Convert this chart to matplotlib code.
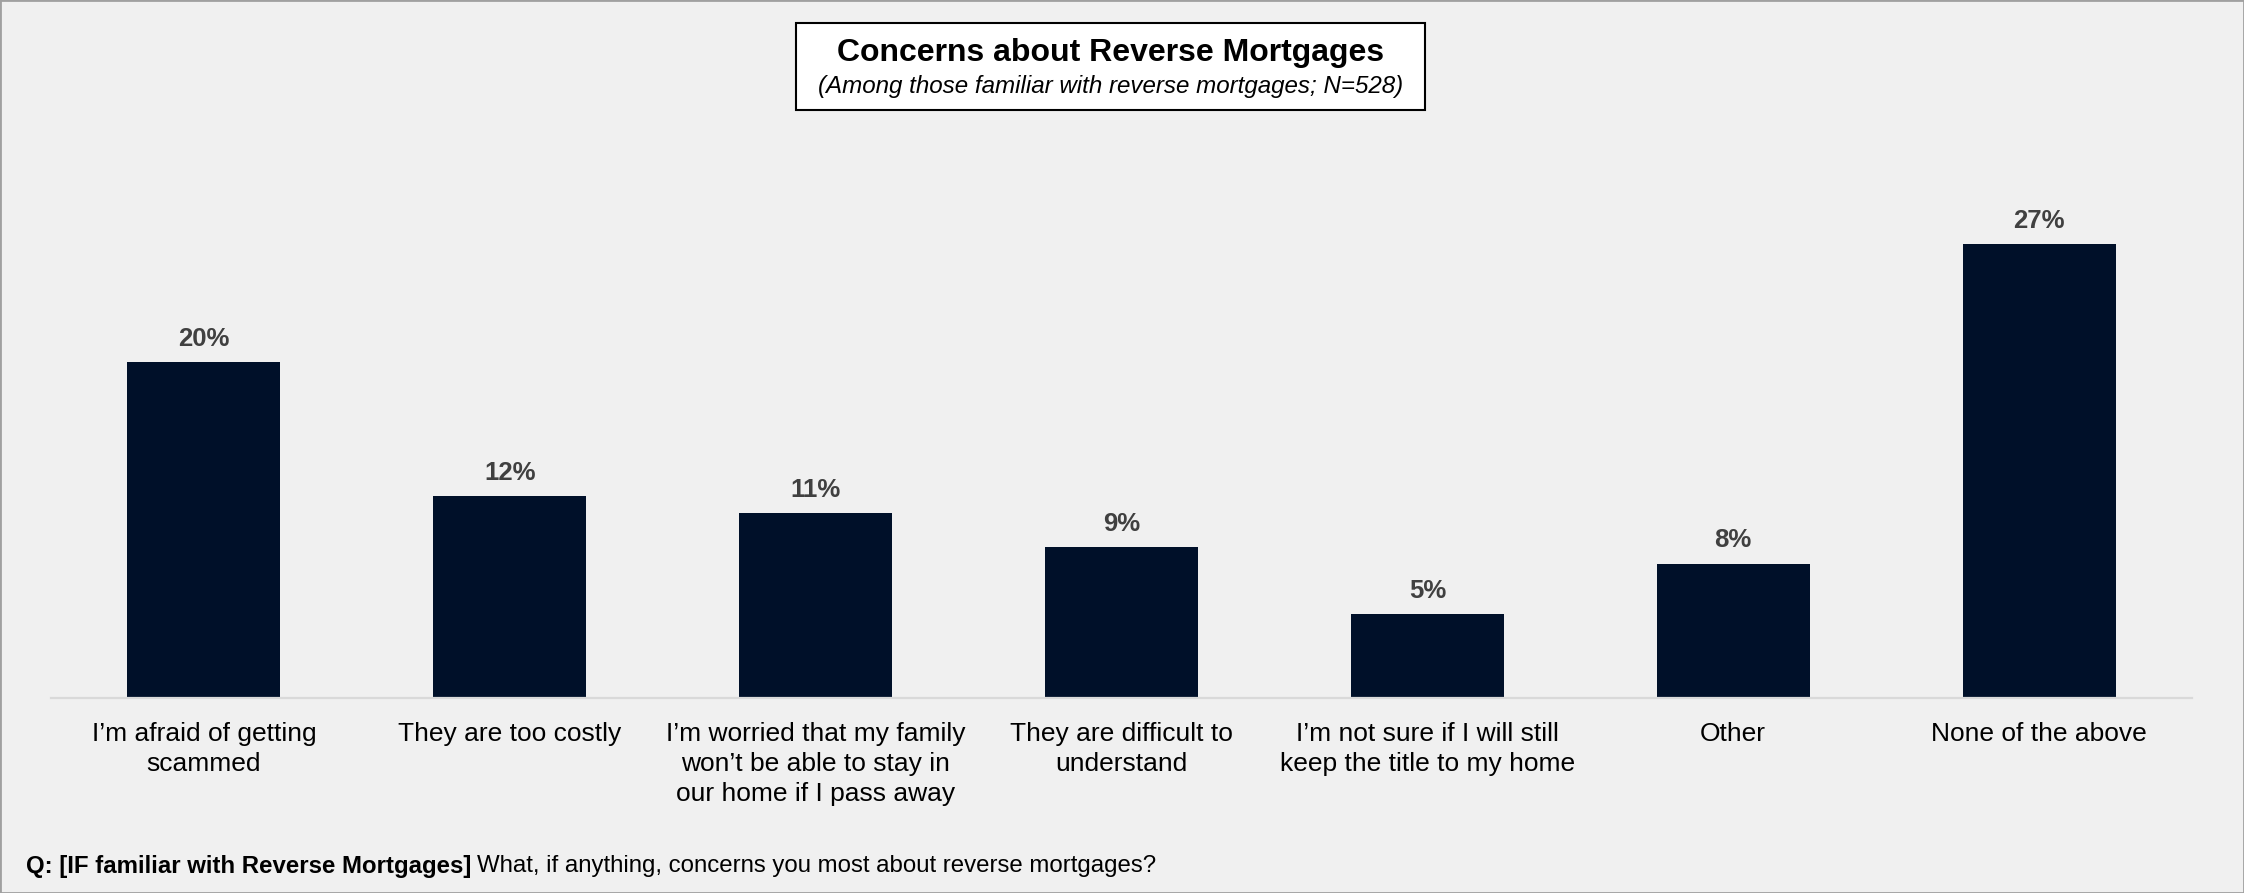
import matplotlib
matplotlib.use("Agg")
import matplotlib.pyplot as plt
from matplotlib.patches import Rectangle

categories = [
    "I\u2019m afraid of getting\nscammed",
    "They are too costly",
    "I\u2019m worried that my family\nwon\u2019t be able to stay in\nour home if I pass away",
    "They are difficult to\nunderstand",
    "I\u2019m not sure if I will still\nkeep the title to my home",
    "Other",
    "None of the above",
]
values = [20, 12, 11, 9, 5, 8, 27]
value_labels = [f"{v}%" for v in values]

title = "Concerns about Reverse Mortgages"
subtitle = "(Among those familiar with reverse mortgages; N=528)"
note_bold = "Q: [IF familiar with Reverse Mortgages]"
note_rest = "What, if anything, concerns you most about reverse mortgages?"

BG = "#F0F0F0"
BAR = "#001029"
FONT = ["Liberation Sans", "DejaVu Sans"]
plt.rcParams["font.family"] = FONT

W, H = 2244, 893
fig = plt.figure(figsize=(W / 100, H / 100), dpi=100, facecolor=BG)

# figure frame
fig.patches.append(Rectangle((0, 0), 1, 1, transform=fig.transFigure,
                             facecolor="none", edgecolor="#A0A0A0",
                             linewidth=2, zorder=0))

ax = fig.add_axes([51 / W, (H - 698) / H, (2192 - 51) / W, 504 / H])
ax.set_facecolor(BG)
x = range(len(categories))
bars = ax.bar(x, values, width=0.5, color=BAR, zorder=2)
ax.set_xlim(-0.5, len(categories) - 0.5)
ax.set_ylim(0, 30)

for s in ("top", "right", "left"):
    ax.spines[s].set_visible(False)
ax.spines["bottom"].set_color("#D9D9D9")
ax.spines["bottom"].set_linewidth(1.6)
ax.set_yticks([])
ax.set_xticks(list(x))
ax.set_xticklabels(categories, fontsize=19, color="#000000", linespacing=1.33)
ax.tick_params(axis="x", length=0, pad=17)

for rect, lab in zip(bars, value_labels):
    ax.annotate(lab, (rect.get_x() + rect.get_width() / 2, rect.get_height()),
                xytext=(0, 8), textcoords="offset points", ha="center",
                va="bottom", fontsize=18.5, fontweight="bold", color="#404040")

# title box
bx0, bx1, by0, by1 = 796, 1425, 23, 110
fig.patches.append(Rectangle((bx0 / W, 1 - by1 / H), (bx1 - bx0) / W,
                             (by1 - by0) / H, transform=fig.transFigure,
                             facecolor="white", edgecolor="black",
                             linewidth=1.5, zorder=1))
cx = (bx0 + bx1) / 2 / W
fig.text(cx, 1 - 53 / H, title, ha="center", va="center", fontsize=23,
         fontweight="bold", color="black", zorder=3)
fig.text(cx, 1 - 87 / H, subtitle, ha="center", va="center", fontsize=17.4,
         style="italic", color="black", zorder=3)

# question note
t1 = fig.text(26 / W, 1 - 866 / H, note_bold, ha="left", va="center",
              fontsize=17.3, fontweight="bold", color="black")
fig.canvas.draw()
ext = t1.get_window_extent(renderer=fig.canvas.get_renderer())
fig.text(ext.x1 / W + 6 / W, 1 - 866 / H, note_rest, ha="left", va="center",
         fontsize=17.3, color="black")

fig.savefig("out.png", dpi=100, facecolor=BG)
